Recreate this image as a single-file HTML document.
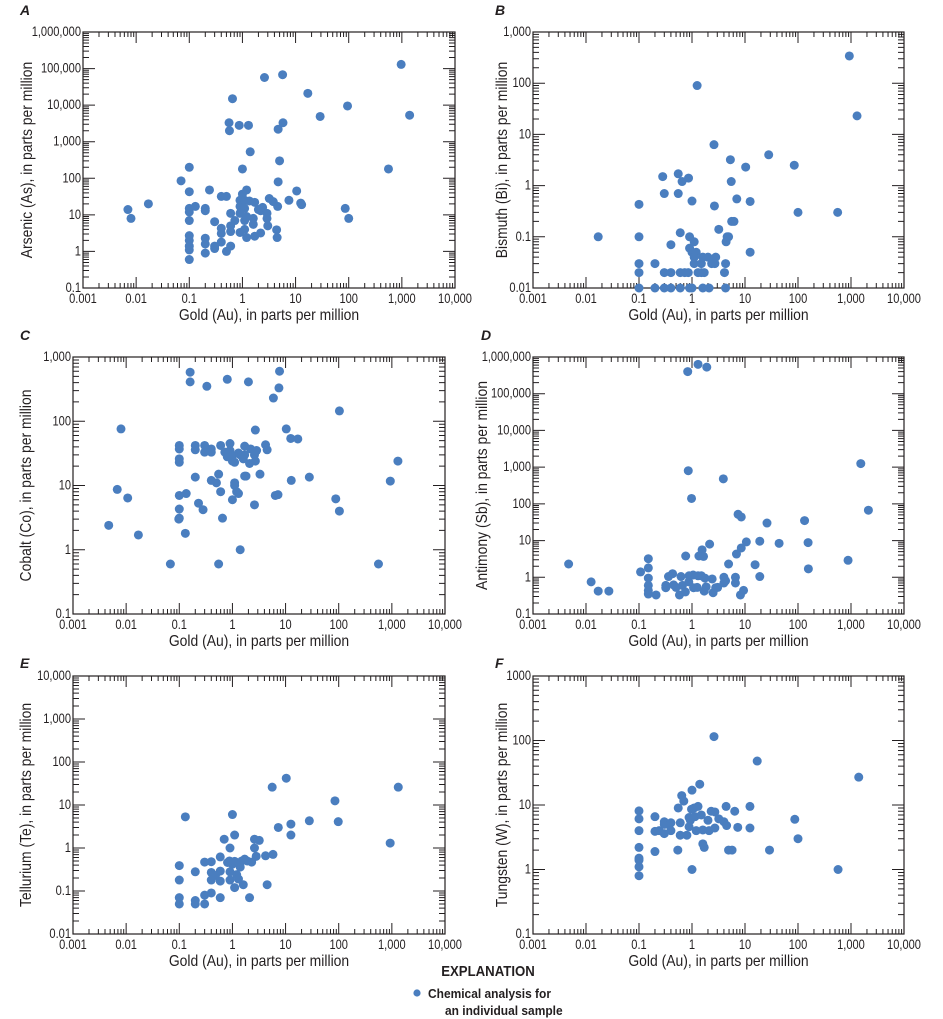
<!DOCTYPE html>
<html><head><meta charset="utf-8"><style>
html,body{margin:0;padding:0;background:#fff;}
svg{display:block;font-family:"Liberation Sans",sans-serif;}
.tl{font-size:13.5px;fill:#231f20;}
.at{font-size:16px;fill:#231f20;}
.pl{font-size:14px;font-weight:bold;font-style:italic;fill:#231f20;}
</style></head><body>
<svg id="fig" width="943" height="1019" viewBox="0 0 943 1019" xmlns="http://www.w3.org/2000/svg">
<g>
<text class="cond" data-f="0.88" x="488" y="976" text-anchor="middle" style="font-size:15px;font-weight:bold;fill:#231f20">EXPLANATION</text>
<circle cx="417" cy="993" r="3.6" fill="#4a7ebf"></circle>
<text class="cond" data-f="0.92" x="428" y="998" style="font-size:13px;font-weight:bold;fill:#231f20">Chemical analysis for</text>
<text class="cond" data-f="0.92" x="445" y="1015" style="font-size:13px;font-weight:bold;fill:#231f20">an individual sample</text>
</g>
</svg>
<script>
// ---- data (gold in ppm vs element in ppm) ----
const auA=[0.007,0.008,0.017,0.07,0.1,0.1,0.1,0.1,0.1,0.1,0.1,0.1,0.1,0.1,0.13,0.2,0.2,0.2,0.2,0.2,0.24,0.3,0.3,0.3,0.4,0.4,0.4,0.4,0.5,0.5,0.56,0.57,0.65,0.6,0.6,0.6,0.6,0.72,0.87,1,0.9,0.9,0.9,0.9,1.0,1.1,1.1,1.1,1.1,1.2,1.2,1.2,1.3,1.4,1.35,1.6,1.6,1.7,1.7,2,2.2,2.2,2.4,2.9,2.9,3,2.6,3.2,3.8,4.4,4.5,4.6,4.7,4.7,5,5.7,5.8,7.5,10.5,12.5,13,17,29,86,100,95,560,970,1400];
const asA=[14,8,20,85,200,43,15,12,7,2.7,2,1.4,1.1,0.6,17,15,13,2.3,1.6,0.9,48,6.5,1.2,1.4,32,4.3,3.1,1.8,32,1.0,3300,2000,15000,11,5,3.5,1.4,7,2800,180,25,17,11,3.3,37,25,15,7,4,48,9,2.4,2800,530,24,8,5.5,22,2.6,14,13,3.2,16,11,8,5,57000,28,23,3.9,2.4,17,80,2200,300,68000,3300,25,45,21,19,21000,4900,15,8,9500,180,130000,5300];

const auB=[0.017,0.1,0.1,0.1,0.1,0.1,0.2,0.2,0.28,0.3,0.3,0.3,0.4,0.4,0.4,0.55,0.55,0.6,0.6,0.6,0.65,0.73,0.85,0.86,0.9,0.9,0.9,1,1.0,1.1,1.0,1.2,1.1,1.1,1.25,1.3,1.5,1.7,1.5,1.6,2.0,1.6,2.1,2.35,2.7,2.8,2.6,2.65,3.2,4.1,4.3,4.3,4.4,4.6,4.9,5.3,5.5,5.6,6.2,7,10.3,12.5,12.5,28,85,100,560,930,1300];
const biB=[0.1,0.43,0.1,0.03,0.02,0.01,0.03,0.01,1.5,0.7,0.02,0.01,0.07,0.02,0.01,1.7,0.7,0.12,0.02,0.01,1.2,0.02,0.02,1.4,0.1,0.06,0.01,0.5,0.01,0.08,0.05,0.05,0.03,0.04,90,0.02,0.02,0.02,0.03,0.04,0.04,0.01,0.01,0.03,0.03,0.04,6.3,0.4,0.14,0.02,0.03,0.01,0.08,0.1,0.1,3.2,1.2,0.2,0.2,0.55,2.3,0.49,0.05,4,2.5,0.3,0.3,340,23];

const auC=[0.0047,0.0068,0.008,0.0107,0.017,0.068,0.1,0.1,0.1,0.1,0.1,0.1,0.1,0.098,0.13,0.135,0.16,0.16,0.2,0.2,0.2,0.23,0.28,0.3,0.3,0.33,0.4,0.4,0.4,0.5,0.55,0.55,0.6,0.6,0.65,0.72,0.8,0.8,0.9,0.9,1,1.0,1.1,1.0,1.1,1.1,1.2,1.3,1.3,1.4,1.4,1.6,1.7,1.7,1.7,1.8,2.0,2.1,2.2,2.6,2.6,2.7,2.7,2.85,3.3,4.2,4.5,5.9,6.4,7.2,7.5,7.7,10.3,12.5,12.8,17,28,88,103,103,560,935,1300];
const coC=[2.4,8.7,76,6.4,1.7,0.6,42,37,26,23,7,4.3,3.1,3,1.8,7.5,580,410,42,36,13.5,5.3,4.2,42,33,350,37,33,12,11,0.6,15,42,8,3.1,33,28,450,45,35,24,29,23,6,11,10,8,7.5,32,30,1,26,41,30,14,14,410,22,37,30,5,24,73,35,15,43,36,230,7,7.2,330,600,76,54,12,53,13.5,6.2,4,145,0.6,11.7,24];

const auD=[0.0047,0.0125,0.017,0.027,0.107,0.15,0.15,0.15,0.15,0.15,0.15,0.21,0.32,0.32,0.36,0.43,0.45,0.5,0.58,0.62,0.66,0.75,0.76,0.83,0.85,0.87,0.88,0.98,1.05,1.07,1.25,1.3,1.3,1.35,1.55,1.65,1.5,1.7,1.75,1.85,1.9,2.15,2.4,2.5,2.8,3.05,3.9,4,4,4.3,4.9,6.6,6.6,6.9,7.4,8.5,8.2,9.4,8.5,10.6,15.5,19,19,26,44,133,155,157,880,1530,2130];
const sbD=[2.3,0.75,0.42,0.42,1.4,3.2,1.8,0.95,0.6,0.44,0.35,0.33,0.6,0.52,1.05,1.25,0.62,0.53,0.33,1.05,0.6,0.4,3.8,400000,800,0.75,1.1,140,1.15,0.52,0.53,1.1,630000,3.8,5.6,3.7,1.1,0.42,0.95,0.55,530000,8,0.9,0.38,0.52,0.53,480,1,0.7,0.8,2.3,1,0.7,4.3,52,44,0.33,0.44,6.3,9.2,2.2,9.6,1.05,30,8.4,35,8.8,1.7,2.9,1250,67];

const auE=[0.1,0.1,0.1,0.1,0.13,0.2,0.2,0.2,0.3,0.3,0.3,0.4,0.4,0.4,0.4,0.48,0.59,0.59,0.59,0.59,0.7,0.81,0.88,0.9,0.9,0.9,1,1.1,1.1,1.0,1.1,1.2,1.3,1.4,1.5,1.6,1.7,1.9,2.1,2.3,2.6,2.6,2.8,3.2,4.2,4.5,5.6,5.8,7.3,10.3,12.6,12.6,28,85,98,930,1320];
const teE=[0.39,0.18,0.07,0.05,5.3,0.28,0.06,0.05,0.47,0.08,0.05,0.48,0.27,0.18,0.09,0.23,0.62,0.29,0.17,0.07,1.6,0.46,0.5,1.0,0.28,0.18,6,2,0.12,0.42,0.49,0.24,0.19,0.36,0.5,0.14,0.55,0.5,0.07,0.47,1.6,1.0,0.64,1.5,0.66,0.14,26,0.71,3,42,3.6,2,4.3,12.5,4.1,1.3,26];

const auF=[0.1,0.1,0.1,0.1,0.1,0.1,0.1,0.1,0.2,0.2,0.2,0.24,0.3,0.3,0.3,0.37,0.4,0.4,0.54,0.55,0.6,0.6,0.64,0.7,0.8,0.88,0.88,0.93,0.98,1,1,1.1,1.14,1.2,1.3,1.4,1.5,1.6,1.6,1.7,2.0,2.1,2.3,2.6,2.7,2.7,3.2,4,4.4,4.5,4.9,5.7,6.4,7.3,12.4,12.4,17,29,87,100,570,1400];
const wF=[8.1,6.1,4,2.2,1.5,1.4,1.1,0.8,6.6,3.9,1.9,4,5.5,3.6,5,4.9,5.3,4,2,9,5.3,3.4,14,11.5,3.4,6.4,4.6,5.8,8.6,17,1,9,6.6,4,9.5,21,7,4.1,2.5,2.2,5.8,4,8,115,7.8,4.4,6.1,5.5,9.5,4.8,2,2,8,4.5,9.5,4.4,48,2,6,3,1,27];

const xTickLabels=["0.001","0.01","0.1","1","10","100","1,000","10,000"];
const yTicksA=["0.1","1","10","100","1,000","10,000","100,000","1,000,000"];
const yTicksB=["0.01","0.1","1","10","100","1,000"];
const yTicksC=["0.1","1","10","100","1,000"];
const yTicksD=["0.1","1","10","100","1,000","10,000","100,000","1,000,000"];
const yTicksE=["0.01","0.1","1","10","100","1,000","10,000"];
const yTicksF=["0.1","1","10","100","1000"];

const NS="http://www.w3.org/2000/svg";
const svg=document.getElementById('fig');
function mk(tag,attrs,parent){const e=document.createElementNS(NS,tag);for(const k in attrs)e.setAttribute(k,attrs[k]);parent.appendChild(e);return e;}
function condense(el,f){const w=el.getComputedTextLength();if(w>0){el.setAttribute('textLength',(w*f).toFixed(1));el.setAttribute('lengthAdjust','spacingAndGlyphs');}}
document.querySelectorAll('.cond').forEach(el=>condense(el,parseFloat(el.getAttribute('data-f'))));

function panel(id,letter,box,yMinExp,yTicks,xs,ys,yTitle,letterPos,yTitlePos){
  const g=mk('g',{},svg);
  
  
  const [L,T,R,B]=box;
  const xMinExp=-3,xMaxExp=4,yMaxExp=yMinExp+yTicks.length-1;
  const xs_=v=>L+(Math.log10(v)-xMinExp)/(xMaxExp-xMinExp)*(R-L);
  const ys_=v=>B-(Math.log10(v)-yMinExp)/(yMaxExp-yMinExp)*(B-T);
  const lt=mk('text',{x:letterPos[0],y:letterPos[1],class:'pl'},g);lt.textContent=letter;
  
  
  const frame=mk('rect',{x:L,y:T,width:R-L,height:B-T,fill:'none',stroke:'#231f20','stroke-width':1.2},g);
  
  
  let d='';
  for(let e=xMinExp;e<=xMaxExp;e++){
    const x=xs_(Math.pow(10,e));
    d+=`M${x},${B}v-11M${x},${T}v11`;
    if(e<xMaxExp)for(let m=2;m<=9;m++){const xm=xs_(m*Math.pow(10,e));d+=`M${xm},${B}v-5M${xm},${T}v5`;}
  }
  for(let e=yMinExp;e<=yMaxExp;e++){
    const y=ys_(Math.pow(10,e));
    d+=`M${L},${y}h12M${R},${y}h-12`;
    if(e<yMaxExp)for(let m=2;m<=9;m++){const ym=ys_(m*Math.pow(10,e));d+=`M${L},${ym}h6M${R},${ym}h-6`;}
  }
  const tk=mk('path',{d:d,stroke:'#231f20','stroke-width':1,fill:'none'},g);
  
  
  xTickLabels.forEach((t,i)=>{
    const tx=mk('text',{x:xs_(Math.pow(10,xMinExp+i)),y:B+15,'text-anchor':'middle',class:'tl'},g);tx.textContent=t;
    
    
    condense(tx,0.82);
  });
  yTicks.forEach((t,i)=>{
    const ty=mk('text',{x:L-2,y:ys_(Math.pow(10,yMinExp+i))+4,'text-anchor':'end',class:'tl'},g);ty.textContent=t;
    
    
    condense(ty,0.82);
  });
  const xt=mk('text',{x:(L+R)/2,y:B+32,'text-anchor':'middle',class:'at'},g);xt.textContent='Gold (Au), in parts per million';
  
  
  condense(xt,0.87);
  const cy=(T+B)/2;
  const yt=mk('text',{x:yTitlePos,y:cy,'text-anchor':'middle',class:'at',transform:`rotate(-90 ${yTitlePos} ${cy})`},g);yt.textContent=yTitle;
  
  
  condense(yt,0.87);
  xs.forEach((v,i)=>{
    const c=mk('circle',{cx:xs_(v),cy:ys_(ys[i]),r:4.5,fill:'#4a7ebf'},g);
    
    
  });
}
panel('a','A',[83,32,455,288],-1,yTicksA,auA,asA,'Arsenic (As), in parts per million',[20,15],32);
panel('b','B',[533,32,904,288],-2,yTicksB,auB,biB,'Bismuth (Bi), in parts per million',[495,15],507);
panel('c','C',[73,357,445,614],-1,yTicksC,auC,coC,'Cobalt (Co), in parts per million',[20,340],31);
panel('d','D',[533,357,904,614],-1,yTicksD,auD,sbD,'Antimony (Sb), in parts per million',[481,340],487);
panel('e','E',[73,676,445,934],-2,yTicksE,auE,teE,'Tellurium (Te), in parts per million',[20,668],31);
panel('f','F',[533,676,904,934],-1,yTicksF,auF,wF,'Tungsten (W), in parts per million',[495,668],507);
</script>
</body></html>
